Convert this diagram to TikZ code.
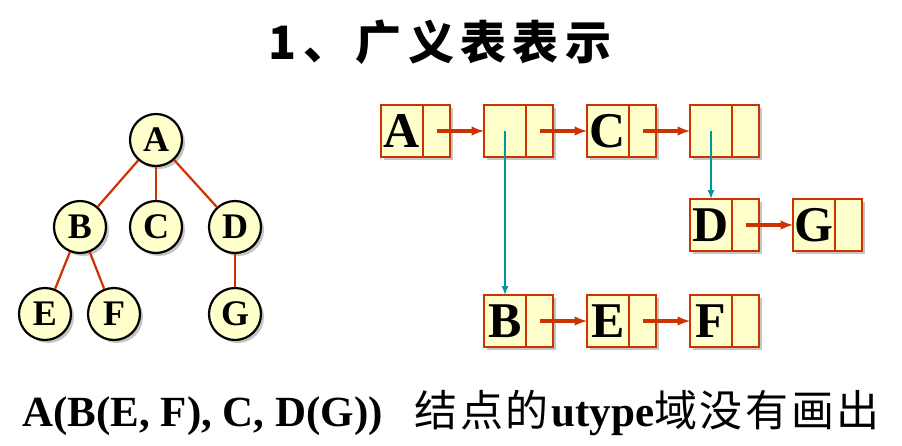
\documentclass[tikz,border=0pt]{standalone}
\usepackage{fontspec}
\setmainfont{Liberation Serif}
\newfontfamily\cjk{Noto Sans CJK SC}[LetterSpace=6]
\newfontfamily\titlefont{Noto Sans CJK SC}[LetterSpace=14]
\usetikzlibrary{positioning,shadows}
\definecolor{cellfill}{HTML}{FFFFCC}
\definecolor{linkred}{HTML}{CC3300}
\definecolor{downteal}{HTML}{009999}

\begin{document}
\begin{tikzpicture}[x=1pt,y=-1pt]
		\tikzstyle{tnode}=[circle, minimum size=52pt, inner sep=0pt, line width=2.2pt, draw=black, fill=cellfill, font=\fontsize{36}{36}\selectfont\bfseries, drop shadow={shadow xshift=3pt, shadow yshift=-3pt, fill=black!45}]
		\tikzstyle{tedge}=[linkred, line width=2.2pt]
		\tikzstyle{datafield}=[rectangle, minimum width=42pt, minimum height=52pt, inner sep=0pt, outer sep=0pt, draw=linkred, line width=2.6pt, fill=cellfill, font=\fontsize{50}{50}\selectfont\bfseries, drop shadow={shadow xshift=3pt, shadow yshift=-3pt, fill=black!45}]
		\tikzstyle{ptrfield}=[datafield, minimum width=27pt]
		\tikzstyle{link}=[-latex, linkred, line width=3.2pt]
		\tikzstyle{down}=[-latex, downteal, line width=2pt]
		\useasboundingbox (0,0) rectangle (902,445);
		
		\node (title) at (440,42) {\titlefont\bfseries\fontsize{46}{46}\selectfont 1、广义表表示};
		
		% tree
		\node[tnode] (A) at (156,140) {A};
		\node[tnode] (B) at (80,227) {B};
		\node[tnode] (C) at (156,227) {C};
		\node[tnode] (D) at (235,227) {D};
		\node[tnode] (E) at (45,314) {E};
		\node[tnode] (F) at (114,314) {F};
		\node[tnode] (G) at (235,314) {G};
		
		\draw[tedge] (A) -- (B);
		\draw[tedge] (A) -- (C);
		\draw[tedge] (A) -- (D);
		\draw[tedge] (B) -- (E);
		\draw[tedge] (B) -- (F);
		\draw[tedge] (D) -- (G);
		
		% generalized list
		\node[datafield] (lA) at (402,131) {A};
		\node[ptrfield, right=0pt of lA] (lAp) {};
		\node[datafield, right=34pt of lAp] (s1) {};
		\node[ptrfield, right=0pt of s1] (s1p) {};
		\node[datafield, right=34pt of s1p] (lC) {C};
		\node[ptrfield, right=0pt of lC] (lCp) {};
		\node[datafield, right=34pt of lCp] (s2) {};
		\node[ptrfield, right=0pt of s2] (s2p) {};
		
		\node[datafield, below=42pt of s2] (lD) {D};
		\node[ptrfield, right=0pt of lD] (lDp) {};
		\node[datafield, right=34pt of lDp] (lG) {G};
		\node[ptrfield, right=0pt of lG] (lGp) {};
		
		\node[datafield, below=138pt of s1] (lB) {B};
		\node[ptrfield, right=0pt of lB] (lBp) {};
		\node[datafield, right=34pt of lBp] (lE) {E};
		\node[ptrfield, right=0pt of lE] (lEp) {};
		\node[datafield, right=34pt of lEp] (lF) {F};
		\node[ptrfield, right=0pt of lF] (lFp) {};
		
		\draw[link] (lAp.center) -- (s1.west);
		\draw[link] (s1p.center) -- (lC.west);
		\draw[link] (lCp.center) -- (s2.west);
		\draw[link] (lDp.center) -- (lG.west);
		\draw[link] (lBp.center) -- (lE.west);
		\draw[link] (lEp.center) -- (lF.west);
		
		\draw[down] (s1.center) -- (lB.north);
		\draw[down] (s2.center) -- (lD.north);
		
		\node[anchor=base west, inner sep=0pt] (caption) at (22,426) {\fontsize{43}{43}\selectfont\textbf{A(B(E, F), C, D(G))}\hspace{32pt}{\cjk 结点的}\textbf{utype}{\cjk 域没有画出}};
	\end{tikzpicture}
\end{document}
